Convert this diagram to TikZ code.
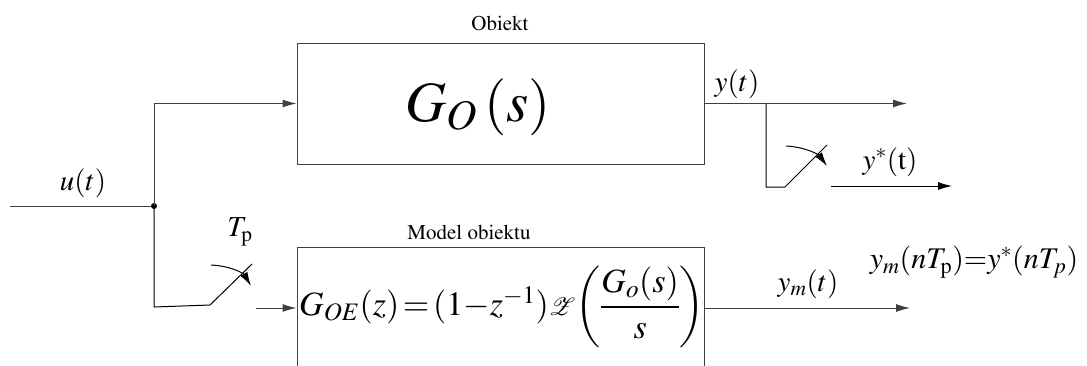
\documentclass[tikz,border=0pt]{standalone}
\usepackage{amsmath}
\usepackage[T1]{fontenc}
\usepackage{mathptmx}
\usepackage{mathrsfs}
\usetikzlibrary{arrows.meta,calc}
\begin{document}
\begin{tikzpicture}[x=1pt,y=-1pt,
  line/.style={draw=black!75,line width=1pt},
  arr/.style={line,-{Latex[length=14pt,width=8pt]}},
  blk/.style={draw=black!75,line width=1pt,inner sep=0pt,rectangle},
  lbl/.style={inner sep=0pt,font=\fontsize{29}{33}\selectfont},
  captxt/.style={inner sep=0pt,font=\fontsize{21}{24}\selectfont}]

\path[use as bounding box] (0,0) rectangle (1087,365);
\clip (0,0) rectangle (1087,365);

% blocks
\node[blk,minimum width=407pt,minimum height=121pt] (obj) at (500.5,103.5) {};
\node[blk,minimum width=407pt,minimum height=140pt] (model) at (500.5,317) {};
\node[captxt] (objlbl) at (500,23) {Obiekt};
\node[captxt] (modlbl) at (469,232) {Model obiektu};
\node[inner sep=0pt,font=\fontsize{57}{63}\selectfont] (gos) at (478,107)
  {$G_{O}\,(s)$};
\node[inner sep=0pt,anchor=west,font=\fontsize{34}{41}\selectfont] (goe) at (299,307)
  {$G_{OE}(z)\mskip2mu{=}\mskip2mu(1{-}z^{-1})\mbox{\fontsize{42}{42}\selectfont$\mathscr{Z}$}\!\left(\dfrac{G_o(s)}{s}\right)$};

% coordinates
\coordinate (uin) at (10,206);
\coordinate (j) at (154,206);
\coordinate (jbot) at (154,307);
\coordinate (s1a) at (210,305);
\coordinate (s1b) at (252,264);
\coordinate (a1s) at (211,265);
\coordinate (a1e) at (251,286);
\coordinate (s1out) at (256,308);
\coordinate (yend) at (907,104);
\coordinate (br) at (766,104);
\coordinate (s2a) at (785,187);
\coordinate (s2b) at (827,145);
\coordinate (a2s) at (786,146);
\coordinate (a2e) at (827,166);
\coordinate (ysout) at (831,186);
\coordinate (ysend) at (952,186);
\coordinate (ymend) at (910,308);

% input
\draw[line] (uin) -- (j);
\fill[black] (j) circle (3pt);
\draw[arr] (j) |- (obj.west);
\draw[line,draw=black] (j) -- (jbot) -- (s1a) -- (s1b);
\draw[arr,draw=black] (a1s) .. controls (232,266) and (244,274) .. (a1e);
\draw[arr] (s1out) -- (s1out -| model.west);

% outputs
\draw[arr] (obj.east) -- (yend |- obj.east);
\draw[line,draw=black] (br |- obj.east) |- (s2a) -- (s2b);
\draw[arr,draw=black] (a2s) .. controls (806,147) and (819,155) .. (a2e);
\draw[arr,draw=black] (ysout) -- (ysend);
\draw[arr] (model.east |- s1out) -- (ymend);

% labels
\node[lbl] (ulbl) at (83,183) {$u(t)$};
\node[lbl] (tplbl) at (240,232) {$T_{\mathrm{p}}$};
\node[lbl] (ylbl) at (737,84) {$y(t)$};
\node[lbl] (yslbl) at (890,162) {$y^{*}(\mathrm{t})$};
\node[lbl] (ymlbl) at (808,284) {$y_{m}(t)$};
\node[lbl,font=\fontsize{30}{34}\selectfont] (eqlbl) at (974,262) {$y_{m}(nT_{\mathrm{p}}){=}y^{*}(nT_{p})$};
\end{tikzpicture}
\end{document}
